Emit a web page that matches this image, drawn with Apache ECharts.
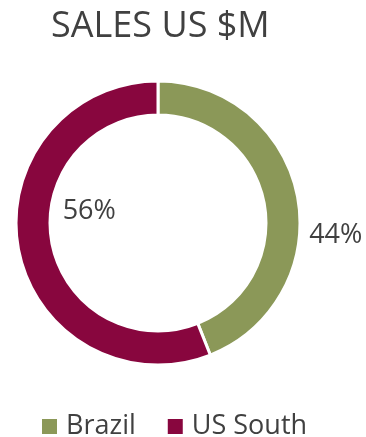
<!DOCTYPE html>
<html lang="en">
<head>
    <meta charset="UTF-8">
    <title>Sales US $M</title>
    <script src="https://cdn.jsdelivr.net/npm/echarts@6/dist/echarts.min.js"></script>
    <style>
        html, body { margin: 0; padding: 0; background: #fff; }
        #main { width: 366px; height: 437px; }
    </style>
</head>
<body>
    <div id="main"></div>
<script>
// 数据
var regions = ['Brazil', 'US South'];
var shares = [44, 56];
var colors = ['#8b9858', '#88063e'];

// 标签偏移（相对于环中间位置）
var labelShift = [[52, 36], [57, -36]];

var myChart = echarts.init(document.getElementById('main'));

var option = {
    animation: false,
    color: colors,
    title: {
        text: 'SALES US $M',
        left: 46,
        top: 4,
        textStyle: {
            fontFamily: 'Open Sans',
            fontSize: 36,
            fontWeight: 'normal',
            color: '#404040'
        }
    },
    legend: {
        data: regions,
        left: 35,
        top: 408,
        itemWidth: 17,
        itemHeight: 17,
        itemGap: 30,
        icon: 'rect',
        textStyle: {
            fontFamily: 'Open Sans',
            fontSize: 27,
            color: '#404040',
            padding: [0, 0, 0, 3]
        }
    },
    series: [
        {
            type: 'pie',
            center: [158, 223],
            radius: [108, 142],
            startAngle: 90,
            clockwise: true,
            itemStyle: {
                borderColor: '#fff',
                borderWidth: 3
            },
            label: {
                show: true,
                position: 'inside',
                formatter: '{c}%',
                fontFamily: 'Open Sans',
                fontSize: 27,
                color: '#404040'
            },
            labelLine: { show: false },
            labelLayout: function (params) {
                var s = labelShift[params.dataIndex];
                return { dx: s[0], dy: s[1] };
            },
            data: regions.map(function (name, i) {
                return { name: name, value: shares[i] };
            })
        }
    ]
};
myChart.setOption(option);
</script>
</body>
</html>
